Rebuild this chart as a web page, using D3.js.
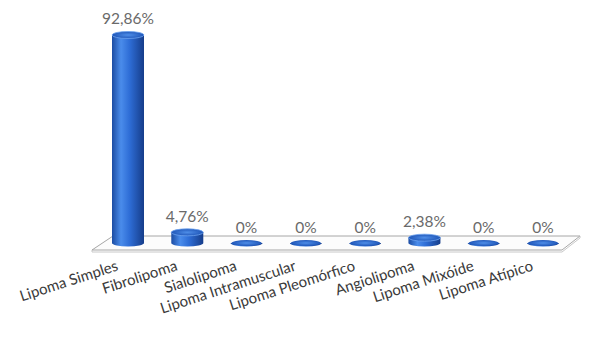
<!DOCTYPE html>
<html>
<head>
<meta charset="utf-8">
<script src="https://cdn.jsdelivr.net/npm/d3@7"></script>
<style>
	body { margin: 0; background: #fff; }
	svg { display: block; }
</style>
</head>
<body>
<svg width="589" height="342"></svg>
<script>
// @ Data
const categories = [
	"Lipoma Simples",
	"Fibrolipoma",
	"Sialolipoma",
	"Lipoma Intramuscular",
	"Lipoma Pleomórfico",
	"Angiolipoma",
	"Lipoma Mixóide",
	"Lipoma Atípico",
];
const values = [92.86, 4.76, 0, 0, 0, 2.38, 0, 0];
const valueLabels = ["92,86%", "4,76%", "0%", "0%", "0%", "2,38%", "0%", "0%"];

const data = categories.map((c, i) => ({ cat: c, value: values[i], label: valueLabels[i] }));

const svg = d3.select("svg");
const baseY = 243;
const rx = 16;
const ry = 3.5;

const x = d3.scalePoint().domain(categories).range([128, 543]);
const y = d3.scaleLinear().domain([0, 100]).range([baseY, 19]);

// gradients for the cylinders
const defs = svg.append("defs");
const side = defs.append("linearGradient").attr("id", "side").attr("x1", 0).attr("x2", 1);
side.append("stop").attr("offset", "0%").attr("stop-color", "#1b4ca3");
side.append("stop").attr("offset", "28%").attr("stop-color", "#4a8ceb");
side.append("stop").attr("offset", "55%").attr("stop-color", "#2e6dd6");
side.append("stop").attr("offset", "100%").attr("stop-color", "#163d8a");
const cap = defs.append("radialGradient").attr("id", "cap");
cap.append("stop").attr("offset", "0%").attr("stop-color", "#4f8ee8");
cap.append("stop").attr("offset", "100%").attr("stop-color", "#1f56b8");

// @ Floor
const floor = [[113, 236], [580, 236], [562, 250], [92, 250]];
svg.append("path")
	.attr("d", d3.line()(floor) + "Z")
	.attr("fill", "#fcfcfc")
	.attr("stroke", "#a6a6a6")
	.attr("stroke-width", 1);
svg.append("path")
	.attr("d", d3.line()([[92, 250], [92, 252], [562, 252], [580, 238], [580, 236]]))
	.attr("fill", "none")
	.attr("stroke", "#c8c8c8")
	.attr("stroke-width", 1);

// @ Bars
const bars = svg.append("g").selectAll("g").data(data).join("g")
	.attr("transform", (d) => `translate(${x(d.cat)},0)`);

bars.append("path")
	.attr("d", (d) => {
		const top = y(d.value);
		return `M${-rx},${top} L${-rx},${baseY} A${rx},${ry} 0 0 0 ${rx},${baseY} L${rx},${top} Z`;
	})
	.attr("fill", "url(#side)");

bars.append("ellipse")
	.attr("cx", 0)
	.attr("cy", (d) => y(d.value))
	.attr("rx", (d) => (d.value ? rx : rx - 1))
	.attr("ry", (d) => (d.value ? ry : 3))
	.attr("fill", "url(#cap)")
	.attr("stroke", (d) => (d.value ? "#6da3f0" : "none"))
	.attr("stroke-width", 0.8);

bars.append("text")
	.text((d) => d.label)
	.attr("y", (d) => y(d.value) - ry - 7)
	.attr("text-anchor", "middle")
	.attr("fill", "#6a6a6a")
	.style("font-family", "Lato")
	.style("font-size", "15.5px");

// @ Category labels
svg.append("g").selectAll("text").data(categories).join("text")
	.text((d) => d)
	.attr("text-anchor", "end")
	.attr("transform", (d) => `translate(${x(d) - 9},270)rotate(-18)`)
	.attr("fill", "#3a3a3a")
	.style("font-family", "Lato")
	.style("font-size", "15px");
</script>
</body>
</html>
